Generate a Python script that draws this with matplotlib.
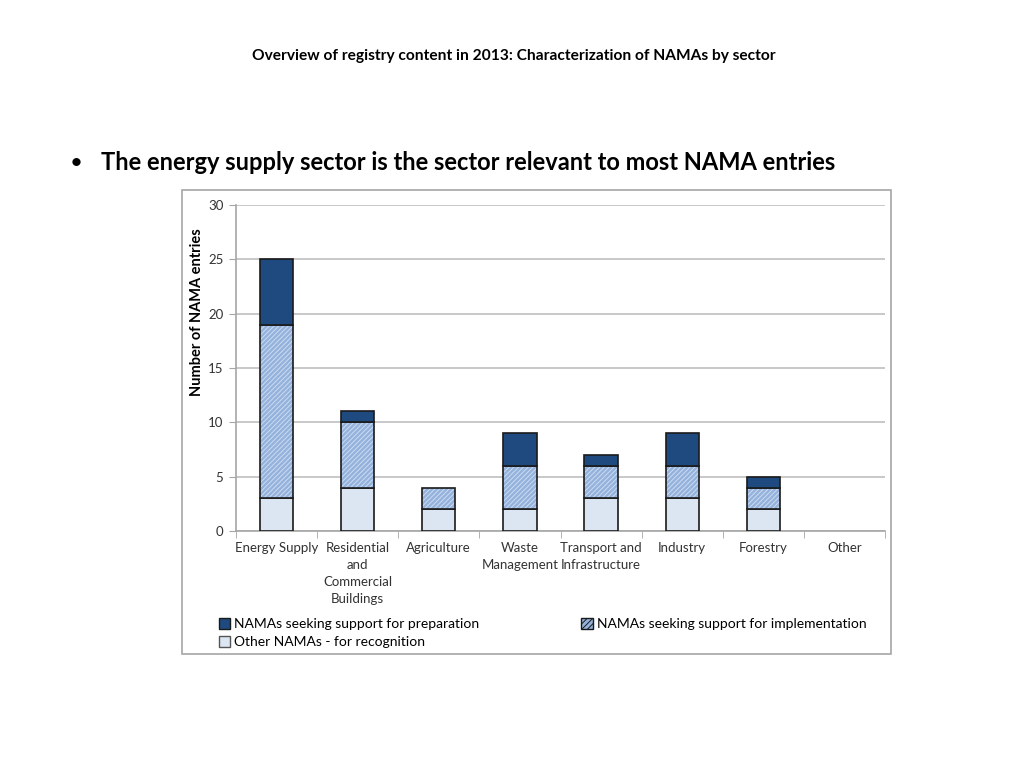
import matplotlib
matplotlib.use("Agg")
import matplotlib.pyplot as plt
import matplotlib.patches as mpatches
import numpy as np

plt.rcParams['font.family'] = ['Lato', 'DejaVu Sans']
plt.rcParams['hatch.linewidth'] = 0.7

categories = ["Energy Supply", "Residential\nand\nCommercial\nBuildings", "Agriculture",
              "Waste\nManagement", "Transport and\nInfrastructure", "Industry", "Forestry", "Other"]
recognition = [3, 4, 2, 2, 3, 3, 2, 0]
implementation = [16, 6, 2, 4, 3, 3, 2, 0]
preparation = [6, 1, 0, 3, 1, 3, 1, 0]
yticks = [0, 5, 10, 15, 20, 25, 30]

c_prep = '#1F4A80'
c_impl = '#94B2DC'
c_hatch = '#CCDCF1'
c_rec = '#DCE6F2'
c_edge = '#1a1a1a'

fig = plt.figure(figsize=(10.24, 7.68), dpi=100)
fig.text(0.502, 0.927, "Overview of registry content in 2013: Characterization of NAMAs by sector",
         ha='center', va='center', fontsize=11.2, fontweight='bold')
fig.text(0.068, 0.788, "\u2022", ha='left', va='center', fontsize=16)
fig.text(0.099, 0.788, "The energy supply sector is the sector relevant to most NAMA entries",
         ha='left', va='center', fontsize=17, fontweight='bold')

# chart frame
frame = mpatches.Rectangle((182/1024, 1-654/768), (891-182)/1024, (654-190)/768,
                           transform=fig.transFigure, fill=False, edgecolor='#A6A6A6', lw=1.2)
fig.patches.append(frame)

ax = fig.add_axes([236/1024, 1-531/768, (885-236)/1024, (531-205)/768])
x = np.arange(len(categories))
w = 0.41
rec = np.array(recognition, dtype=float)
imp = np.array(implementation, dtype=float)
prep = np.array(preparation, dtype=float)

def stack(vals, bottom, **kw):
    m = vals > 0
    return ax.bar(x[m], vals[m], w, bottom=bottom[m], zorder=3, **kw)

zero = np.zeros(len(x))
stack(rec, zero, color=c_rec, edgecolor=c_edge, lw=1.2)
stack(imp, rec, color=c_impl, edgecolor=c_hatch, lw=0, hatch='///////')
stack(imp, rec, fill=False, edgecolor=c_edge, lw=1.2)
stack(prep, rec+imp, color=c_prep, edgecolor=c_edge, lw=1.2)

ax.set_xlim(-0.5, len(categories)-0.5)
ax.set_ylim(0, 30)
ax.set_yticks(yticks)
ax.yaxis.grid(True, color='#BFBFBF', lw=1.2, zorder=0)
ax.set_axisbelow(True)
for s in ['top', 'right']:
    ax.spines[s].set_visible(False)
for s in ['left', 'bottom']:
    ax.spines[s].set_color('#A6A6A6')
    ax.spines[s].set_linewidth(1.2)
ax.tick_params(axis='y', length=5, color='#A6A6A6', labelsize=9.5, labelcolor='#333333', pad=4)
ax.set_xticks(x)
ax.set_xticklabels(categories, fontsize=9.5, color='#333333', linespacing=1.5)
ax.tick_params(axis='x', length=0, pad=8)
ax.set_xticks(np.arange(-0.5, len(categories), 1), minor=True)
ax.tick_params(axis='x', which='minor', length=5, color='#A6A6A6')
ax.set_ylabel("Number of NAMA entries", fontsize=10.5, fontweight='bold', labelpad=6)
ax.yaxis.set_label_coords(-0.05, (531-312)/326)

h_prep = mpatches.Patch(facecolor=c_prep, edgecolor=c_edge, lw=1)
h_impl = mpatches.Patch(facecolor=c_impl, edgecolor=c_edge, lw=1, hatch='//////')
h_rec = mpatches.Patch(facecolor=c_rec, edgecolor='#555555', lw=1)
fig.legend([h_prep, h_rec, h_impl],
           ['NAMAs seeking support for preparation', 'Other NAMAs - for recognition',
            'NAMAs seeking support for implementation'],
           loc='upper left', bbox_to_anchor=(219/1024, 1-618/768), ncol=2, frameon=False,
           fontsize=10, handlelength=0.8, handleheight=0.8, handletextpad=0.3,
           columnspacing=7.35, labelspacing=0.42, borderpad=0, borderaxespad=0)

fig.savefig("out.png", dpi=100)
